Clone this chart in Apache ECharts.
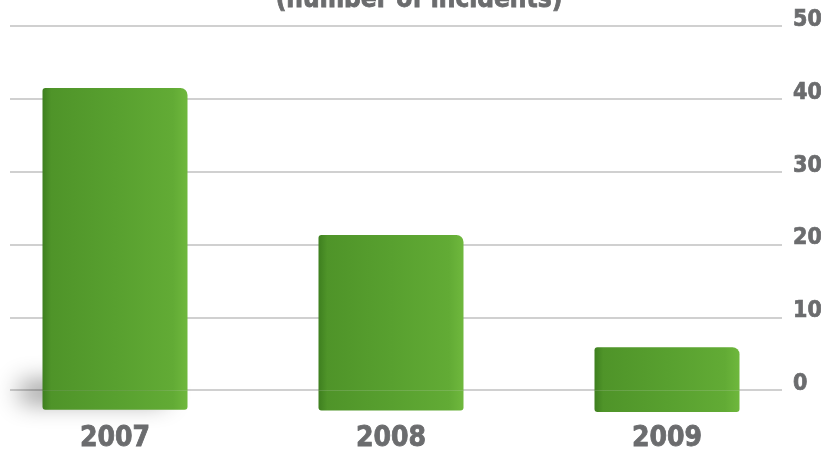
<!DOCTYPE html>
<html>
<head>
<meta charset="utf-8">
<script src="https://cdn.jsdelivr.net/npm/echarts@6/dist/echarts.min.js"></script>
<style>
html,body{margin:0;padding:0;background:#fff;}
#c{width:821px;height:457px;}
</style>
</head>
<body>
<div id="c"></div>
<script>
const titleText = "(number of incidents)";
const categories = ["2007", "2008", "2009"];
const incidents = [41.5, 21.3, 5.9];
const tickValues = [0, 10, 20, 30, 40, 50];
const depth = [-2.7, -2.8, -3];

const FONT = '"Liberation Sans Narrow", "DejaVu Sans Condensed", sans-serif';
const GREY = '#6b6c6e';
const barFill = new echarts.graphic.LinearGradient(0, 0, 1, 0, [
  {offset: 0, color: '#3e7f1f'},
  {offset: 0.06, color: '#4f9429'},
  {offset: 0.5, color: '#58a02f'},
  {offset: 0.9, color: '#62ab35'},
  {offset: 1, color: '#6fb83d'}
]);

const chart = echarts.init(document.getElementById('c'), null, {renderer: 'canvas'});
chart.setOption({
  animation: false,
  backgroundColor: '#ffffff',
  title: {
    text: titleText,
    left: 414,
    textAlign: 'center',
    top: -18,
    textStyle: {fontFamily: FONT, fontWeight: 'bold', fontSize: 26, color: GREY,
      textBorderColor: GREY, textBorderWidth: 0.8}
  },
  grid: [
    {left: 10, right: 39, top: 26, bottom: 45, outerBoundsMode: 'none', containLabel: false},
    {left: -23, right: 16, top: 26, bottom: 45, outerBoundsMode: 'none', containLabel: false}
  ],
  xAxis: [
    {gridIndex: 0, type: 'value', min: 0, max: 1, show: false},
    {gridIndex: 1, type: 'category', data: categories,
     axisLine: {show: false}, axisTick: {show: false},
     axisLabel: {margin: 13, fontFamily: FONT, fontWeight: 'bold', fontSize: 28, color: GREY,
       textBorderColor: GREY, textBorderWidth: 0.8}}
  ],
  yAxis: [
    {gridIndex: 0, type: 'value', min: -3, max: 50, position: 'right',
     axisLine: {show: false},
     axisTick: {show: false, customValues: tickValues},
     axisLabel: {customValues: tickValues, margin: 11, align: 'left',
       verticalAlign: 'bottom', lineHeight: 12,
       fontFamily: FONT, fontWeight: 'bold', fontSize: 23, color: GREY,
       textBorderColor: GREY, textBorderWidth: 0.7},
     splitLine: {show: true, lineStyle: {color: '#d0d0d0', width: 2}}},
    {gridIndex: 1, type: 'value', min: -3, max: 50, show: false, splitLine: {show: false}}
  ],
  series: [
    {type: 'bar', xAxisIndex: 1, yAxisIndex: 1, stack: 'b', barWidth: 145,
     data: depth.map((v, i) => i === 0 ? {value: v, itemStyle: {shadowColor: 'rgba(0,0,0,0.45)', shadowBlur: 25, shadowOffsetX: -22, shadowOffsetY: -8}} : v),
     itemStyle: {color: barFill, borderRadius: [0, 0, 3, 3]}},
    {type: 'bar', xAxisIndex: 1, yAxisIndex: 1, stack: 'b', barWidth: 145,
     data: incidents,
     itemStyle: {color: barFill, borderRadius: [3, 7, 0, 0]}}
  ]
});
</script>
</body>
</html>
